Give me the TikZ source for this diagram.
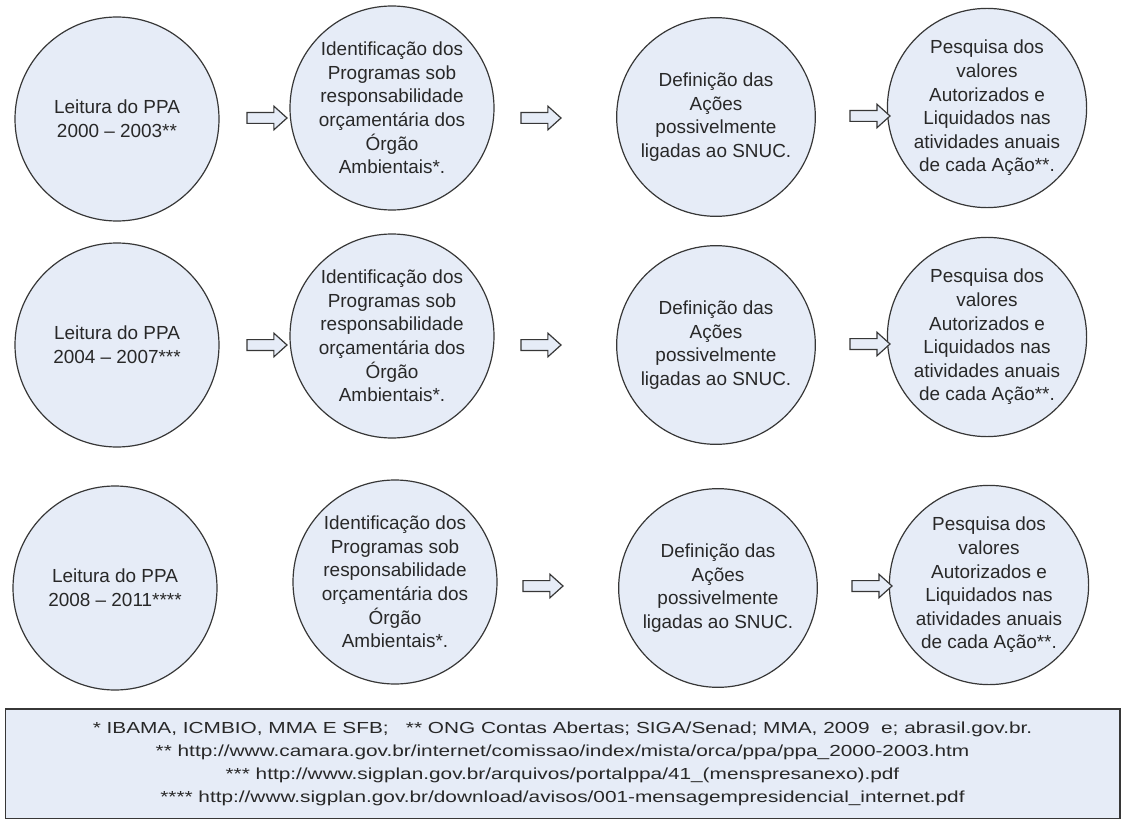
\documentclass[tikz,border=0pt]{standalone}
\usepackage{fontspec}
\setmainfont{Liberation Sans}
\newfontfamily\notafont[FakeStretch=1.3]{Liberation Sans}
\usetikzlibrary{shapes,positioning,calc}
\definecolor{etapafill}{RGB}{230,236,247}
\definecolor{etapaline}{RGB}{55,55,55}
\definecolor{etapatext}{RGB}{40,40,40}

\begin{document}
\begin{tikzpicture}[x=0.75pt, y=-0.75pt,
    etapa/.style={circle, draw=etapaline, fill=etapafill, line width=0.9pt, minimum size=153pt, inner sep=0pt, align=center, text=etapatext, font=\fontsize{14.2}{17.7}\selectfont},
    seta/.style={single arrow, draw=etapaline, fill=etapafill, line width=0.9pt, minimum height=30pt, single arrow head extend=4.8pt, single arrow tip angle=84, inner sep=3.6pt}]
    \useasboundingbox[fill=white] (0,0) rectangle (1125,824);
    % linha 1
    \node[etapa] (ppa1) at (117,119) {Leitura do PPA\\2000 -- 2003**};
    \node[etapa] (prog1) at (392,108) {Identificação dos\\Programas sob\\responsabilidade\\orçamentária dos\\Órgão\\Ambientais*.};
    \node[etapa, minimum size=149pt] (acao1) at (716,117) {Definição das\\Ações\\possivelmente\\ligadas ao SNUC.};
    \node[etapa, minimum size=149pt] (pesq1) at (987,108) {Pesquisa dos\\valores\\Autorizados e\\Liquidados nas\\atividades anuais\\de cada Ação**.};
    \node[seta] (s11) at (264,118) {};
    \node[seta] (s12) at (538,118) {};
    \node[seta] (s13) at (867,116) {};
    % linha 2
    \node[etapa] (ppa2) at (117,345) {Leitura do PPA\\2004 -- 2007***};
    \node[etapa] (prog2) at (392,336) {Identificação dos\\Programas sob\\responsabilidade\\orçamentária dos\\Órgão\\Ambientais*.};
    \node[etapa, minimum size=149pt] (acao2) at (716,345) {Definição das\\Ações\\possivelmente\\ligadas ao SNUC.};
    \node[etapa, minimum size=149pt] (pesq2) at (987,337) {Pesquisa dos\\valores\\Autorizados e\\Liquidados nas\\atividades anuais\\de cada Ação**.};
    \node[seta] (s21) at (264,345) {};
    \node[seta] (s22) at (538,345) {};
    \node[seta] (s23) at (867,344) {};
    % linha 3
    \node[etapa] (ppa3) at (115,588) {Leitura do PPA\\2008 -- 2011****};
    \node[etapa] (prog3) at (395,582) {Identificação dos\\Programas sob\\responsabilidade\\orçamentária dos\\Órgão\\Ambientais*.};
    \node[etapa, minimum size=149pt] (acao3) at (718,588) {Definição das\\Ações\\possivelmente\\ligadas ao SNUC.};
    \node[etapa, minimum size=149pt] (pesq3) at (989,585) {Pesquisa dos\\valores\\Autorizados e\\Liquidados nas\\atividades anuais\\de cada Ação**.};
    \node[seta] (s32) at (540,586) {};
    \node[seta] (s33) at (869,586) {};
    % notas
    \node[draw=etapaline, fill=etapafill, line width=1pt, minimum width=836pt, minimum height=82pt, align=center, text=etapatext, font=\notafont\fontsize{12}{17.25}\selectfont] (notas) at (562.5,763.5)
        {* IBAMA, ICMBIO, MMA E SFB;\ \ \ ** ONG Contas Abertas; SIGA/Senad; MMA, 2009\ \ e; abrasil.gov.br.\\
         ** http://www.camara.gov.br/internet/comissao/index/mista/orca/ppa/ppa\_2000-2003.htm\\
         *** http://www.sigplan.gov.br/arquivos/portalppa/41\_(menspresanexo).pdf\\
         **** http://www.sigplan.gov.br/download/avisos/001-mensagempresidencial\_internet.pdf};
\end{tikzpicture}
\end{document}
